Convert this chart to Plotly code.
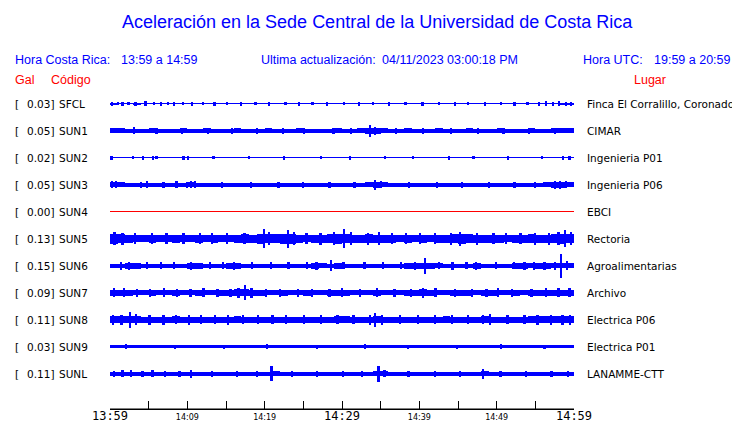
import plotly.graph_objects as go

# ---------------- data ----------------
codes = ["SFCL", "SUN1", "SUN2", "SUN3", "SUN4", "SUN5", "SUN6", "SUN7", "SUN8", "SUN9", "SUNL"]
gal = ["0.03", "0.05", "0.02", "0.05", "0.00", "0.13", "0.15", "0.09", "0.11", "0.03", "0.11"]
places = ["Finca El Corralillo, Coronado", "CIMAR", "Ingenieria P01", "Ingenieria P06", "EBCI",
          "Rectoria", "Agroalimentarias", "Archivo", "Electrica P06", "Electrica P01", "LANAMME-CTT"]
trace_colors = ["#0000ff", "#0000ff", "#0000ff", "#0000ff", "#ff0000", "#0000ff",
                "#0000ff", "#0000ff", "#0000ff", "#0000ff", "#0000ff"]

tick_minutes = [0, 5, 10, 15, 20, 25, 30, 35, 40, 45, 50, 55, 60]
tick_labels = ["13:59", "", "14:09", "", "14:19", "", "14:29", "", "14:39", "", "14:49", "", "14:59"]
big_ticks = ["13:59", "14:29", "14:59"]

# minute index of each envelope value (one value per minute of the hour shown)
minutes = [0, 1, 2, 3, 4, 5, 6, 7, 8, 9, 10, 11, 12, 13, 14, 15, 16, 17, 18, 19,
           20, 21, 22, 23, 24, 25, 26, 27, 28, 29, 30, 31, 32, 33, 34, 35, 36, 37, 38, 39,
           40, 41, 42, 43, 44, 45, 46, 47, 48, 49, 50, 51, 52, 53, 54, 55, 56, 57, 58, 59]

# envelope half-widths per minute
band_SFCL = [1, .5, .5, 1, .5, .5, .5, .5, .5, .5, .5, .5, .5, .5, .5, .5, .5, .5, .5, .5,
             .5, .5, .5, .5, .5, .5, .5, .5, .5, .5, .5, .5, .5, .5, .5, .5, .5, .5, .5, .5,
             .5, .5, .5, .5, .5, .5, .5, .5, .5, .5, .5, .5, .5, .5, .5, .5, .5, .5, 1, 1]
band_SUN1 = [2.5, 2.5, 2, 2, 2, 2.5, 2, 2, 2, 2.5, 2, 2, 2.5, 2, 2, 2, 2.5, 2, 2, 2,
             2.5, 2, 2, 2, 2.5, 2, 2, 2, 2, 2.5, 2, 2, 2.5, 3, 3, 2.5, 2, 2, 2.5, 2,
             2, 2, 2.5, 2, 2, 2, 2.5, 2, 2, 2, 2.5, 2, 2, 2, 2.5, 2, 2, 2.5, 2.5, 2.5]
band_SUN2 = [.5, .5, .5, .5, .5, .5, .5, .5, .5, .5, .5, .5, .5, .5, .5, .5, .5, .5, .5, .5,
             .5, .5, .5, .5, .5, .5, .5, .5, .5, .5, .5, .5, .5, .5, .5, .5, .5, .5, .5, .5,
             .5, .5, .5, .5, .5, .5, .5, .5, .5, .5, .5, .5, .5, .5, .5, .5, .5, .5, .5, .5]
band_SUN3 = [2.5, 2.5, 2, 2, 2, 2, 2, 2, 2, 2, 2.5, 2, 2, 2, 2, 2, 2, 2, 2, 2,
             2, 2, 2, 2, 2, 2, 2, 2, 2, 2, 2, 2, 2, 2.5, 3, 2.5, 2, 2, 2, 2,
             2, 2, 2, 2, 2, 2, 2, 2, 2, 2, 2, 2, 2, 2, 2, 2, 2.5, 3, 3, 2.5]
band_SUN4 = [0, 0, 0, 0, 0, 0, 0, 0, 0, 0, 0, 0, 0, 0, 0, 0, 0, 0, 0, 0,
             0, 0, 0, 0, 0, 0, 0, 0, 0, 0, 0, 0, 0, 0, 0, 0, 0, 0, 0, 0,
             0, 0, 0, 0, 0, 0, 0, 0, 0, 0, 0, 0, 0, 0, 0, 0, 0, 0, 0, 0]
band_SUN5 = [5, 4.5, 4, 3.5, 3.5, 4, 3.5, 3.5, 4, 3.5, 3.5, 4, 3.5, 4, 3.5, 3.5, 4, 4.5, 4, 5,
             4.5, 4.5, 5, 5, 4, 3.5, 4, 4, 4.5, 5, 4.5, 4, 4, 4.5, 4, 4, 4, 3.5, 4, 3.5,
             4, 3.5, 4, 4, 4.5, 5, 4.5, 4, 4, 4, 4, 3.5, 4, 4, 4.5, 4, 4, 4.5, 5, 4.5]
band_SUN6 = [2, 2, 3, 3, 2, 2, 2, 2, 2, 2, 3, 3, 2, 2, 2, 3, 3, 2, 2, 2,
             2, 2, 2, 2, 2, 2, 3, 2.5, 2, 3, 2, 2, 2, 2, 2, 2, 2, 2, 3, 3,
             3, 3, 2.5, 2, 2, 2, 2, 3, 2, 2, 2, 2, 3, 3, 2.5, 3, 3, 2.5, 2.5, 2.5]
band_SUN7 = [3, 3, 3, 2.5, 2.5, 3, 2.5, 2.5, 3, 2.5, 2.5, 3, 2.5, 2.5, 3, 3, 3.5, 3.5, 3, 3,
             2.5, 2.5, 3, 2.5, 2.5, 3, 2.5, 2.5, 3, 3, 3, 2.5, 2.5, 2.5, 3, 2.5, 2.5, 2.5, 3, 3,
             3.5, 3, 2.5, 2.5, 3, 3, 3, 2.5, 3, 3, 2.5, 2.5, 3, 2.5, 3, 3, 3, 3, 3, 3]
band_SUN8 = [3.5, 3.5, 3.5, 3.5, 3, 3, 3, 3, 3.5, 3, 3, 3, 3, 3, 3, 3, 3.5, 3, 3, 3,
             3, 3, 3, 3, 3, 3, 3, 3, 3, 3.5, 3.5, 3, 3, 3, 3.5, 3, 3, 3, 3, 3,
             3, 3, 3, 3.5, 3, 3, 3, 3, 3.5, 3, 3, 3, 3, 3, 3.5, 3.5, 3.5, 3.5, 3.5, 3.5]
band_SUN9 = [1.5, 1.5, 1.5, 1.5, 1.5, 1.5, 1.5, 1.5, 1.5, 1.5, 1.5, 1.5, 1.5, 1.5, 1.5, 1.5, 1.5, 1.5, 1.5, 1.5,
             1.5, 1.5, 1.5, 1.5, 1.5, 1.5, 1.5, 1.5, 1.5, 1.5, 1.5, 1.5, 1.5, 1.5, 1.5, 1.5, 1.5, 1.5, 1.5, 1.5,
             1.5, 1.5, 1.5, 1.5, 1.5, 1.5, 1.5, 1.5, 1.5, 1.5, 1.5, 1.5, 1.5, 1.5, 1.5, 1.5, 1.5, 1.5, 1.5, 1.5]
band_SUNL = [2, 2, 2, 2, 2, 2, 2, 2, 2, 2, 2, 2, 2, 2, 2, 2, 2, 2, 2, 2,
             2, 2.5, 2, 2, 2, 2, 2, 2, 2, 2, 2, 2, 2, 2, 2.5, 2.5, 2, 2, 2, 2,
             2, 2, 2, 2, 2, 2, 2, 2, 2.5, 2, 2, 2, 2, 2, 2, 2, 2, 2, 2, 2]

# spikes: minute position and half amplitude
spk_t_SFCL = [0.3, 1.0, 1.6, 2.4, 3.3, 4.6, 5.7, 6.6, 7.5, 8.3, 9.4, 10.6, 12.0, 13.5, 15.1, 16.9, 18.8, 20.6,
              22.7, 24.4, 26.2, 28.1, 30.3, 32.2, 34.0, 36.1, 38.2, 40.4, 42.5, 44.6, 46.3, 48.5, 50.6, 52.3,
              54.0, 55.5, 56.4, 57.3, 58.1, 59.0, 59.6]
spk_a_SFCL = [2, 1.5, 2, 1.5, 2, 2.5, 1.5, 2, 1.5, 2, 1.5, 2, 1.5, 2, 1.5, 2, 1.5, 2, 1.5, 2, 1.5, 2,
              1.5, 2, 1.5, 2, 1.5, 2, 1.5, 2, 1.5, 2, 1.5, 2, 1.5, 2, 2.5, 2, 2.5, 2, 2]
spk_t_SUN1 = [3.1, 6.0, 9.3, 12.7, 15.8, 19.0, 22.4, 25.1, 28.9, 31.2, 33.6, 34.3, 37.0, 40.5, 44.1, 47.6,
              50.9, 54.2, 57.5]
spk_a_SUN1 = [3.5, 3, 3, 3, 3, 3, 3, 3, 3, 3, 6, 4, 3, 3, 3, 3, 3, 3, 3]
spk_t_SUN2 = [0.2, 3.0, 4.3, 5.6, 6.0, 9.5, 10.1, 13.4, 18.0, 22.5, 27.3, 31.0, 35.6, 39.2, 43.8, 47.0,
              51.5, 55.9, 58.6, 59.4]
spk_a_SUN2 = [2, 1.5, 2, 2, 1.5, 2, 2, 1.5, 1.5, 2, 1.5, 2, 1.5, 1.5, 2, 1.5, 2, 1.5, 2, 2]
spk_t_SUN3 = [0.3, 0.8, 4.0, 4.8, 6.9, 8.6, 10.0, 10.5, 11.0, 14.5, 18.2, 21.8, 25.0, 28.4, 31.6, 34.3,
              35.0, 38.7, 42.3, 45.5, 49.0, 52.3, 55.0, 57.5, 58.2, 59.0]
spk_a_SUN3 = [3.5, 3.5, 3, 3.5, 3, 3.5, 3, 3.5, 3.5, 3, 3, 3, 3, 3, 3, 5, 3.5, 3, 3, 3, 3, 3, 3, 4, 4, 3.5]
spk_t_SUN4 = []
spk_a_SUN4 = []
spk_t_SUN5 = [0.6, 1.6, 3.2, 5.4, 7.3, 9.5, 11.6, 13.2, 15.1, 17.4, 19.9, 20.6, 23.0, 23.8, 25.4, 27.2,
              29.0, 30.3, 31.2, 33.4, 34.8, 36.5, 38.3, 40.1, 42.0, 44.1, 45.3, 47.5, 49.6, 51.2, 53.1,
              55.0, 56.8, 58.0, 58.8, 59.6]
spk_a_SUN5 = [6.5, 6, 5.5, 5.5, 5.5, 5.5, 5.5, 5.5, 5.5, 5.5, 9.5, 6.5, 9, 6.5, 5.5, 6, 6.5, 9.5, 6.5, 6, 6.5,
              5.5, 5.5, 5.5, 5.5, 6, 7, 6, 5.5, 5.5, 5.5, 6, 6, 6.5, 8.5, 6.5]
spk_t_SUN6 = [1.4, 2.5, 4.8, 6.6, 8.3, 10.5, 12.9, 14.6, 16.0, 18.4, 20.8, 23.1, 25.5, 26.7, 28.6, 30.2,
              32.9, 35.3, 37.6, 39.4, 40.7, 42.5, 44.3, 46.1, 47.3, 49.9, 52.2, 53.6, 54.8, 56.2, 57.5,
              58.3, 59.1]
spk_a_SUN6 = [4, 4, 3.5, 3.5, 3.5, 4, 3.5, 3.5, 4, 3.5, 3.5, 3.5, 3.5, 4, 5.5, 3.5, 3.5, 3.5, 3.5, 4,
              8, 3.5, 4, 3.5, 4, 3.5, 3.5, 4, 4, 4, 4, 12, 4.5]
spk_t_SUN7 = [0.5, 1.8, 3.5, 5.2, 7.0, 8.7, 10.4, 12.1, 13.9, 15.6, 16.6, 17.5, 18.3, 20.2, 22.0, 24.3,
              26.1, 28.4, 30.0, 32.3, 34.5, 36.8, 38.9, 40.5, 42.1, 44.6, 46.8, 48.7, 50.2, 52.0, 54.5,
              56.4, 58.0, 59.4]
spk_a_SUN7 = [4.5, 4.5, 4, 4, 4.5, 4, 4, 4.5, 4, 4, 5, 7.5, 5, 4, 4, 4, 4, 4, 4.5, 4, 4.5, 4, 4, 5,
              4.5, 4, 4, 4, 4.5, 4, 4, 4.5, 4.5, 4.5]
spk_t_SUN8 = [0.4, 1.5, 2.6, 3.4, 5.1, 6.9, 8.5, 10.2, 11.8, 13.6, 15.3, 17.2, 19.1, 21.0, 22.8, 25.1,
              27.3, 29.4, 31.5, 33.6, 34.3, 35.2, 37.5, 39.8, 42.0, 44.2, 46.3, 48.2, 49.1, 51.4, 53.6,
              55.3, 57.0, 58.5, 59.5]
spk_a_SUN8 = [5, 5, 8, 5.5, 5, 5, 4.5, 5, 4.5, 4.5, 5, 4.5, 4.5, 4.5, 4.5, 4.5, 4.5, 4.5, 4.5, 5, 7,
              5, 4.5, 4.5, 4.5, 4.5, 4.5, 4.5, 5.5, 4.5, 4.5, 5, 5, 5, 5]
spk_t_SUN9 = [2.1, 8.4, 14.7, 20.3, 26.8, 33.0, 38.5, 44.9, 50.6, 56.2]
spk_a_SUN9 = [2.5, 2, 2, 2.5, 2, 2.5, 2, 2, 2.5, 2]
spk_t_SUNL = [0.5, 1.6, 2.7, 4.2, 5.5, 7.1, 9.0, 10.5, 13.2, 16.4, 19.0, 20.9, 23.5, 26.8, 30.1, 32.6,
              34.7, 35.5, 38.6, 42.0, 45.3, 48.2, 50.5, 53.8, 57.1, 59.2]
spk_a_SUNL = [3, 3.5, 3.5, 3, 3.5, 3, 3, 4, 3, 3, 3, 7.5, 3, 3, 3, 3, 8, 3.5, 3, 3, 3, 5, 3, 3, 3, 3]

bands = [band_SFCL, band_SUN1, band_SUN2, band_SUN3, band_SUN4, band_SUN5,
         band_SUN6, band_SUN7, band_SUN8, band_SUN9, band_SUNL]
spk_t = [spk_t_SFCL, spk_t_SUN1, spk_t_SUN2, spk_t_SUN3, spk_t_SUN4, spk_t_SUN5,
         spk_t_SUN6, spk_t_SUN7, spk_t_SUN8, spk_t_SUN9, spk_t_SUNL]
spk_a = [spk_a_SFCL, spk_a_SUN1, spk_a_SUN2, spk_a_SUN3, spk_a_SUN4, spk_a_SUN5,
         spk_a_SUN6, spk_a_SUN7, spk_a_SUN8, spk_a_SUN9, spk_a_SUNL]

# ---------------- figure ----------------
OFF = 8                      # page body margin of the browser
W, H = 740 - OFF, 423 - OFF
L = 110 - OFF                # plot left edge (reference pixel 110)
T = 90 - OFF                 # plot top (reference pixel 90)
R = W - (574 - OFF)          # plot right edge (reference pixel 574)
B = H - (409 - OFF)          # axis line (reference pixel 409)
ROW = 27.0                   # pixels per row
plot_h = H - T - B
y_top = (90 - 103.5) / ROW   # first row centre in the middle of reference pixel row 103
y_bot = y_top + plot_h / ROW

fig = go.Figure()
for i, code in enumerate(codes):
    col = trace_colors[i]
    fig.add_trace(go.Scatter(x=[0, 60], y=[i, i], mode="lines",
                             line=dict(color=col, width=1), hoverinfo="skip", showlegend=False))
    b = bands[i]
    fig.add_trace(go.Bar(x=[m + 0.5 for m in minutes], y=[2 * a / ROW for a in b],
                         base=[i - a / ROW for a in b], width=1.0,
                         marker=dict(color=col, line=dict(width=0)),
                         hoverinfo="skip", showlegend=False))
    if spk_t[i]:
        fig.add_trace(go.Bar(x=spk_t[i], y=[2 * a / ROW for a in spk_a[i]],
                             base=[i - a / ROW for a in spk_a[i]], width=0.3,
                             marker=dict(color=col, line=dict(width=0)),
                             hoverinfo="skip", showlegend=False))


def px_shift(px, anchor="left"):
    return px - 110 - (2 if anchor == "left" else 0)


ann = []
lab_font = dict(family="DejaVu Sans", size=10.5, color="#000000")
for i, code in enumerate(codes):
    ann.append(dict(xref="paper", yref="y", x=0, y=i, xanchor="left", yanchor="middle",
                    xshift=px_shift(15), text="[", showarrow=False, font=lab_font))
    ann.append(dict(xref="paper", yref="y", x=0, y=i, xanchor="left", yanchor="middle",
                    xshift=px_shift(27), text=gal[i] + "]", showarrow=False, font=lab_font))
    ann.append(dict(xref="paper", yref="y", x=0, y=i, xanchor="left", yanchor="middle",
                    xshift=px_shift(59), text=code, showarrow=False, font=lab_font))
    ann.append(dict(xref="paper", yref="y", x=1, y=i, xanchor="left", yanchor="middle",
                    xshift=587 - 574 - 2, text=places[i], showarrow=False, font=lab_font))

blue_font = dict(family="Liberation Sans", size=12.5, color="#0000ff")
red_font = dict(family="Liberation Sans", size=12.5, color="#ff0000")
header = [
    ("Aceleración en la Sede Central de la Universidad de Costa Rica", 377, 22, "center",
     dict(family="Liberation Sans", size=18, color="#0000ff")),
    ("Hora Costa Rica:", 15, 60, "left", blue_font),
    ("13:59 a 14:59", 121, 60, "left", blue_font),
    ("Ultima actualización:", 261, 60, "left", blue_font),
    ("04/11/2023 03:00:18 PM", 382, 60, "left", blue_font),
    ("Hora UTC:", 583, 60, "left", blue_font),
    ("19:59 a 20:59", 654, 60, "left", blue_font),
    ("Gal", 15, 80, "left", red_font),
    ("Código", 51, 80, "left", red_font),
    ("Lugar", 634, 80, "left", red_font),
]
for text, px, py, anchor, f in header:
    ann.append(dict(xref="paper", yref="paper", x=0, y=1, xanchor=anchor, yanchor="middle",
                    xshift=px_shift(px, anchor), yshift=90 - py,
                    text=text, showarrow=False, font=f))

tick_text = []
for t in tick_labels:
    if t in big_ticks:
        tick_text.append('<span style="font-size:12px;font-family:\'DejaVu Sans Mono\'">'
                         + t + '</span>')
    else:
        tick_text.append(t)

fig.update_layout(
    width=W, height=H,
    margin=dict(l=L, r=R, t=T, b=B, pad=0, autoexpand=False),
    paper_bgcolor="#ffffff", plot_bgcolor="#ffffff",
    barmode="overlay", bargap=0,
    showlegend=False,
    annotations=ann,
    shapes=[dict(type="line", xref="paper", yref="paper", x0=0, x1=1, y0=0, y1=0,
                 line=dict(color="#000000", width=1.2), layer="above")],
    xaxis=dict(range=[0, 60], showgrid=False, zeroline=False, automargin=False,
               showline=True, linecolor="#000000", linewidth=1,
               ticks="inside", ticklen=8, tickwidth=1, tickcolor="#000000",
               tickvals=tick_minutes, ticktext=tick_text,
               tickfont=dict(family="DejaVu Sans", size=8, color="#000000"),
               fixedrange=True),
    yaxis=dict(range=[y_bot, y_top], visible=False, showgrid=False, zeroline=False,
               automargin=False, fixedrange=True),
)

fig.write_html("out.html")
